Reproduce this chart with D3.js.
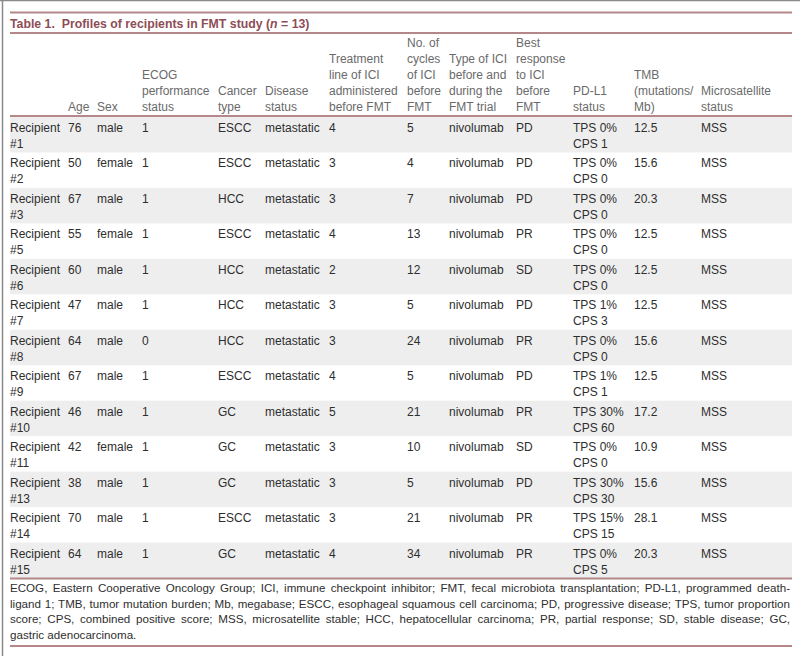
<!DOCTYPE html>
<html><head><meta charset="utf-8">
<script src="https://cdn.jsdelivr.net/npm/d3@7/dist/d3.min.js"></script>
<style>
html,body{margin:0;padding:0;background:#fff;}
svg{display:block;font-family:"Liberation Sans",Arial,Helvetica,sans-serif;}
</style></head>
<body><svg id="c" width="800" height="656"></svg>
<script>
const title = ["Table 1.  Profiles of recipients in FMT study (", "n", " = 13)"];
const headers = [
  ["", "", "", "", ""],
  ["Age"],
  ["Sex"],
  ["ECOG", "performance", "status"],
  ["Cancer", "type"],
  ["Disease", "status"],
  ["Treatment", "line of ICI", "administered", "before FMT"],
  ["No. of", "cycles", "of ICI", "before", "FMT"],
  ["Type of ICI", "before and", "during the", "FMT trial"],
  ["Best", "response", "to ICI", "before", "FMT"],
  ["PD-L1", "status"],
  ["TMB", "(mutations/", "Mb)"],
  ["Microsatellite", "status"]
];
const recipients = ["#1","#2","#3","#5","#6","#7","#8","#9","#10","#11","#13","#14","#15"];
const age = [76,50,67,55,60,47,64,67,46,42,38,70,64];
const sex = ["male","female","male","female","male","male","male","male","male","female","male","male","male"];
const ecog = [1,1,1,1,1,1,0,1,1,1,1,1,1];
const cancerType = ["ESCC","ESCC","HCC","ESCC","HCC","HCC","HCC","ESCC","GC","GC","GC","ESCC","GC"];
const diseaseStatus = Array.from({length:13}, () => "metastatic");
const treatmentLine = [4,3,3,4,2,3,3,4,5,3,3,3,4];
const cycles = [5,4,7,13,12,5,24,5,21,10,5,21,34];
const iciType = Array.from({length:13}, () => "nivolumab");
const bestResponse = ["PD","PD","PD","PR","SD","PD","PR","PD","PR","SD","PD","PR","PR"];
const tps = ["0%","0%","0%","0%","0%","1%","0%","1%","30%","0%","30%","15%","0%"];
const cps = [1,0,0,0,0,3,0,1,60,0,30,15,5];
const tmb = ["12.5","15.6","20.3","12.5","12.5","12.5","15.6","12.5","17.2","10.9","15.6","28.1","20.3"];
const msStatus = Array.from({length:13}, () => "MSS");
const footnote = [
  "ECOG, Eastern Cooperative Oncology Group; ICI, immune checkpoint inhibitor; FMT, fecal microbiota transplantation; PD-L1, programmed death-",
  "ligand 1; TMB, tumor mutation burden; Mb, megabase; ESCC, esophageal squamous cell carcinoma; PD, progressive disease; TPS, tumor proportion",
  "score; CPS, combined positive score; MSS, microsatellite stable; HCC, hepatocellular carcinoma; PR, partial response; SD, stable disease; GC,",
  "gastric adenocarcinoma."
];

// build table rows
const rows = recipients.map((r,i) => [
  ["Recipient", r], [String(age[i])], [sex[i]], [String(ecog[i])], [cancerType[i]],
  [diseaseStatus[i]], [String(treatmentLine[i])], [String(cycles[i])], [iciType[i]],
  [bestResponse[i]], ["TPS " + tps[i], "CPS " + cps[i]], [tmb[i]], [msStatus[i]]
]);

const svg = d3.select("#c");
const W = 800, L = 10, R = 792;
const ruleColor = "#b5878b";
const colIdx = d3.range(headers.length);
const x = d3.scaleOrdinal().domain(colIdx).range([10,68,97,142,218,265,329,407,449,516,573,634,701]);
const y = d3.scaleBand().domain(recipients).range([117, 578]);

// frame
svg.append("line").attr("x1",0).attr("x2",W).attr("y1",0.5).attr("y2",0.5).attr("stroke","#8a8a8a").attr("stroke-width",1.5);
svg.append("line").attr("x1",2.5).attr("x2",2.5).attr("y1",0).attr("y2",656).attr("stroke","#8a8a8a").attr("stroke-width",1.5);

// title
const tt = svg.append("text").attr("x",L).attr("y",28).attr("fill","#8e4d56")
  .attr("font-weight","bold").attr("font-size",12.3).attr("xml:space","preserve");
tt.append("tspan").text(title[0]);
tt.append("tspan").attr("font-style","italic").text(title[1]);
tt.append("tspan").text(title[2]);

// row shading
svg.append("g").selectAll("rect").data(recipients.filter((d,i)=>i%2===0)).join("rect")
  .attr("x",L).attr("width",R-L).attr("y",d=>y(d)).attr("height",y.bandwidth()).attr("fill","#eeeeee");

// rules
[12.5, 33, 116, 578.5, 646].forEach(v => {
  svg.append("line").attr("x1",L).attr("x2",R).attr("y1",v).attr("y2",v)
    .attr("stroke",ruleColor).attr("stroke-width",2);
});

// headers (bottom aligned)
const hg = svg.append("g").attr("font-size",12).attr("fill","#6a6a6a");
headers.forEach((lines,c) => {
  lines.forEach((t,k) => {
    hg.append("text").attr("x",x(c)).attr("y",111 - (lines.length-1-k)*16).text(t);
  });
});

// body
const bg = svg.append("g").attr("font-size",12).attr("fill","#2e2e2e");
rows.forEach((cells,i) => {
  const top = y(recipients[i]);
  cells.forEach((lines,c) => {
    lines.forEach((t,k) => {
      bg.append("text").attr("x",x(c)).attr("y",top + 15 + k*16).text(t);
    });
  });
});

// footnote (justified)
const fg = svg.append("g").attr("font-size",11.6).attr("fill","#2e2e2e");
footnote.forEach((t,k) => {
  const el = fg.append("text").attr("x",L).attr("y",592 + k*15.7).text(t);
  if (k < footnote.length-1) {
    const w = el.node().getComputedTextLength();
    const n = (t.match(/ /g)||[]).length;
    el.attr("word-spacing", ((R-2-L) - w)/n);
  }
});
</script></body></html>
